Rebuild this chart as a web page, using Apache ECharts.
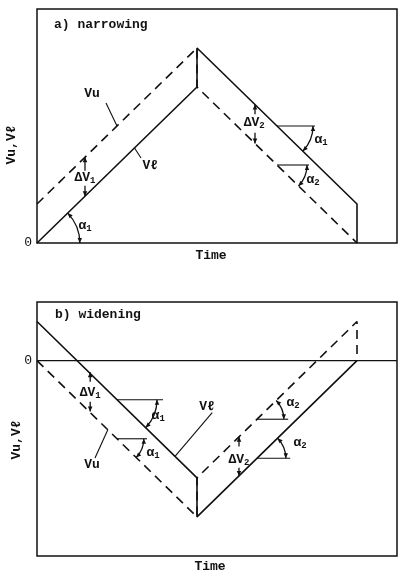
<!DOCTYPE html>
<html><head><meta charset="utf-8">
<script src="https://cdn.jsdelivr.net/npm/echarts@6/dist/echarts.min.js"></script>
<style>html,body{margin:0;padding:0;background:#fff}#c{width:399px;height:574px}</style>
</head><body><div id="c"></div>
<script>
// ---------- data ----------
// Panel a) narrowing : Vℓ solid, Vu dashed
const aSolid  = [[0,0],[4,4],[4,5],[8,1],[8,0]];
const aDashed = [[0,1],[4,5],[4,4],[8,0]];
// Panel b) widening
const bSolid  = [[0,1],[4,-3],[4,-4],[8,0]];
const bDashed = [[0,0],[4,-4],[4,-3],[8,1],[8,0]];
const bZero   = [[0,0],[9,0]];
// ΔV arrows: [x, yFrom, yTo]
const aDeltaArrows = [[1.2,1.85,2.2],[1.2,1.47,1.2],[5.45,3.3,3.55],[5.45,2.83,2.55]];
const bDeltaArrows = [[1.33,-0.54,-0.3],[1.33,-1.05,-1.3],[5.05,-2.2,-1.95],[5.05,-2.74,-2.95]];
// ΔV labels: [x, y, subscript]
const aDeltaLabels = [[1.2,1.67,'1'],[5.43,3.08,'2']];
const bDeltaLabels = [[1.33,-0.82,'1'],[5.05,-2.54,'2']];
// angle marks: [vertexX, vertexY, pointOnLineX, pointOnLineY, radius]
const aAngles = [[0,0,4,4,1.07],[6,3,8,1,0.9],[6,2,8,0,0.75]];
const bAngles = [[2,-1,4,-3,1.0],[2,-2,4,-4,0.67],[5.5,-1.5,8,1,0.67],[5.5,-2.5,8,0,0.72]];
// horizontal reference lines / leader lines: [x1,y1,x2,y2]
const aSegments = [[6,3,6.95,3],[6,2,6.8,2],[1.725,3.59,2.0,3.0],[2.6,2.18,2.43,2.45]];
const bSegments = [[2,-1,3.15,-1],[2,-2,2.75,-2],[5.5,-1.5,6.28,-1.5],[5.5,-2.5,6.33,-2.5],
                   [1.45,-2.49,1.77,-1.77],[4.38,-1.33,3.45,-2.45]];
// angle labels: [x, y, subscript]
const aAngleLabels = [[1.2,0.44,'1'],[7.1,2.64,'1'],[6.9,1.62,'2']];
const bAngleLabels = [[3.03,-1.41,'1'],[2.9,-2.36,'1'],[6.4,-1.08,'2'],[6.575,-2.1,'2']];
// curve names: [x, y, text]
const aCurveLabels = [[1.375,3.82,'Vu'],[2.83,1.97,'Vℓ']];
const bCurveLabels = [[1.375,-2.67,'Vu'],[4.25,-1.18,'Vℓ']];
const panelTitles = ['a) narrowing','b) widening'];
const xName = 'Time';
const yName = 'Vu,Vℓ';

// ---------- rendering ----------
const INK = '#111';
const FONT = '"Liberation Mono","DejaVu Sans Mono",monospace';
const chart = echarts.init(document.getElementById('c'), null, {renderer:'canvas'});

function arrowHead(tip, dx, dy, len, w) {
  const bx = tip[0]-dx*len, by = tip[1]-dy*len;
  return {type:'polygon', shape:{points:[[tip[0],tip[1]],[bx-dy*w,by+dx*w],[bx+dy*w,by-dx*w]]}, style:{fill:INK}};
}
function renderArrow(params, api) {
  const p1 = api.coord([api.value(0), api.value(1)]);
  const p2 = api.coord([api.value(0), api.value(2)]);
  const d = p2[1] > p1[1] ? 1 : -1;
  return {type:'group', children:[
    {type:'line', shape:{x1:p1[0],y1:p1[1],x2:p2[0],y2:p2[1]}, style:{stroke:INK,lineWidth:1.3}},
    arrowHead(p2, 0, d, 5, 2.3)
  ]};
}
function renderAngle(params, api) {
  const v = api.coord([api.value(0), api.value(1)]);
  const l = api.coord([api.value(2), api.value(3)]);
  const re = api.coord([api.value(0)+api.value(4), api.value(1)]);
  const r = re[0]-v[0];
  const a = Math.atan2(l[1]-v[1], l[0]-v[0]);
  const s = Math.min(0,a), e = Math.max(0,a);
  const ps = [v[0]+r*Math.cos(s), v[1]+r*Math.sin(s)];
  const pe = [v[0]+r*Math.cos(e), v[1]+r*Math.sin(e)];
  return {type:'group', children:[
    {type:'arc', shape:{cx:v[0],cy:v[1],r:r,startAngle:s,endAngle:e,clockwise:true},
     style:{stroke:INK,fill:null,lineWidth:1.3}},
    arrowHead(pe, -Math.sin(e), Math.cos(e), 5, 2.2),
    arrowHead(ps, Math.sin(s), -Math.cos(s), 5, 2.2)
  ]};
}
function renderSeg(params, api) {
  const p1 = api.coord([api.value(0), api.value(1)]);
  const p2 = api.coord([api.value(2), api.value(3)]);
  return {type:'line', shape:{x1:p1[0],y1:p1[1],x2:p2[0],y2:p2[1]}, style:{stroke:INK,lineWidth:1.1}};
}
const rich = {
  m:{fontFamily:FONT,fontSize:13,fontWeight:'bold',color:INK},
  s:{fontFamily:FONT,fontSize:9,fontWeight:'bold',color:INK,padding:[6,0,0,0]}
};
function labelSeries(idx, arr, prefix) {
  return {type:'scatter', xAxisIndex:idx, yAxisIndex:idx, symbolSize:0, silent:true,
    data: arr.map(d => ({value:[d[0],d[1]], name:d[2]})),
    label:{show:true, position:'inside', color:INK, opacity:1,
      formatter: p => prefix ? '{m|'+prefix+'}{s|'+p.name+'}' : '{m|'+p.name+'}', rich:rich}};
}
function lineSeries(idx, data, dashed, w) {
  return {type:'line', xAxisIndex:idx, yAxisIndex:idx, data:data, showSymbol:false, symbol:'none',
    silent:true, lineStyle:{color:INK, width:w||1.6, type: dashed ? [9,6] : 'solid'}};
}
function customSeries(idx, data, fn) {
  return {type:'custom', xAxisIndex:idx, yAxisIndex:idx, data:data, renderItem:fn, silent:true,
    encode:{x:0,y:1}};
}
const xAx = idx => ({gridIndex:idx, type:'value', min:0, max:9,
  axisLine:{show:false}, axisTick:{show:false}, axisLabel:{show:false}, splitLine:{show:false}});
const yAx = (idx, mn, mx) => ({gridIndex:idx, type:'value', min:mn, max:mx, interval:1,
  axisLine:{show:false}, axisTick:{show:false}, splitLine:{show:false},
  axisLabel:{formatter: v => v === 0 ? '0' : '', fontFamily:FONT, fontSize:13, color:INK, margin:5}});

const txt = (x, y, text, rot, align) => ({type:'text', x:x, y:y, rotation:rot||0,
  style:{text:text, fill:INK, font:'bold 13px '+FONT, textAlign: align||'left', textVerticalAlign:'middle'}});

chart.setOption({
  animation:false,
  backgroundColor:'#fff',
  grid:[
    {left:37, top:9, width:360, height:234, show:true, borderColor:INK, borderWidth:1.5, backgroundColor:'transparent'},
    {left:37, top:302, width:360, height:254, show:true, borderColor:INK, borderWidth:1.5, backgroundColor:'transparent'}
  ],
  xAxis:[xAx(0), xAx(1)],
  yAxis:[yAx(0,0,6), yAx(1,-5,1.5)],
  graphic:[
    txt(54, 25, panelTitles[0]),
    txt(55, 315, panelTitles[1]),
    txt(211, 256, xName, 0, 'center'),
    txt(210, 567, xName, 0, 'center'),
    txt(12, 145, yName, Math.PI/2, 'center'),
    txt(17, 440, yName, Math.PI/2, 'center')
  ],
  series:[
    lineSeries(0, aSolid, false),
    lineSeries(0, aDashed, true),
    lineSeries(1, bZero, false, 1.2),
    lineSeries(1, bSolid, false),
    lineSeries(1, bDashed, true),
    customSeries(0, aDeltaArrows, renderArrow),
    customSeries(1, bDeltaArrows, renderArrow),
    customSeries(0, aAngles, renderAngle),
    customSeries(1, bAngles, renderAngle),
    customSeries(0, aSegments, renderSeg),
    customSeries(1, bSegments, renderSeg),
    labelSeries(0, aDeltaLabels, 'ΔV'),
    labelSeries(1, bDeltaLabels, 'ΔV'),
    labelSeries(0, aAngleLabels, 'α'),
    labelSeries(1, bAngleLabels, 'α'),
    labelSeries(0, aCurveLabels, null),
    labelSeries(1, bCurveLabels, null)
  ]
});
</script></body></html>
